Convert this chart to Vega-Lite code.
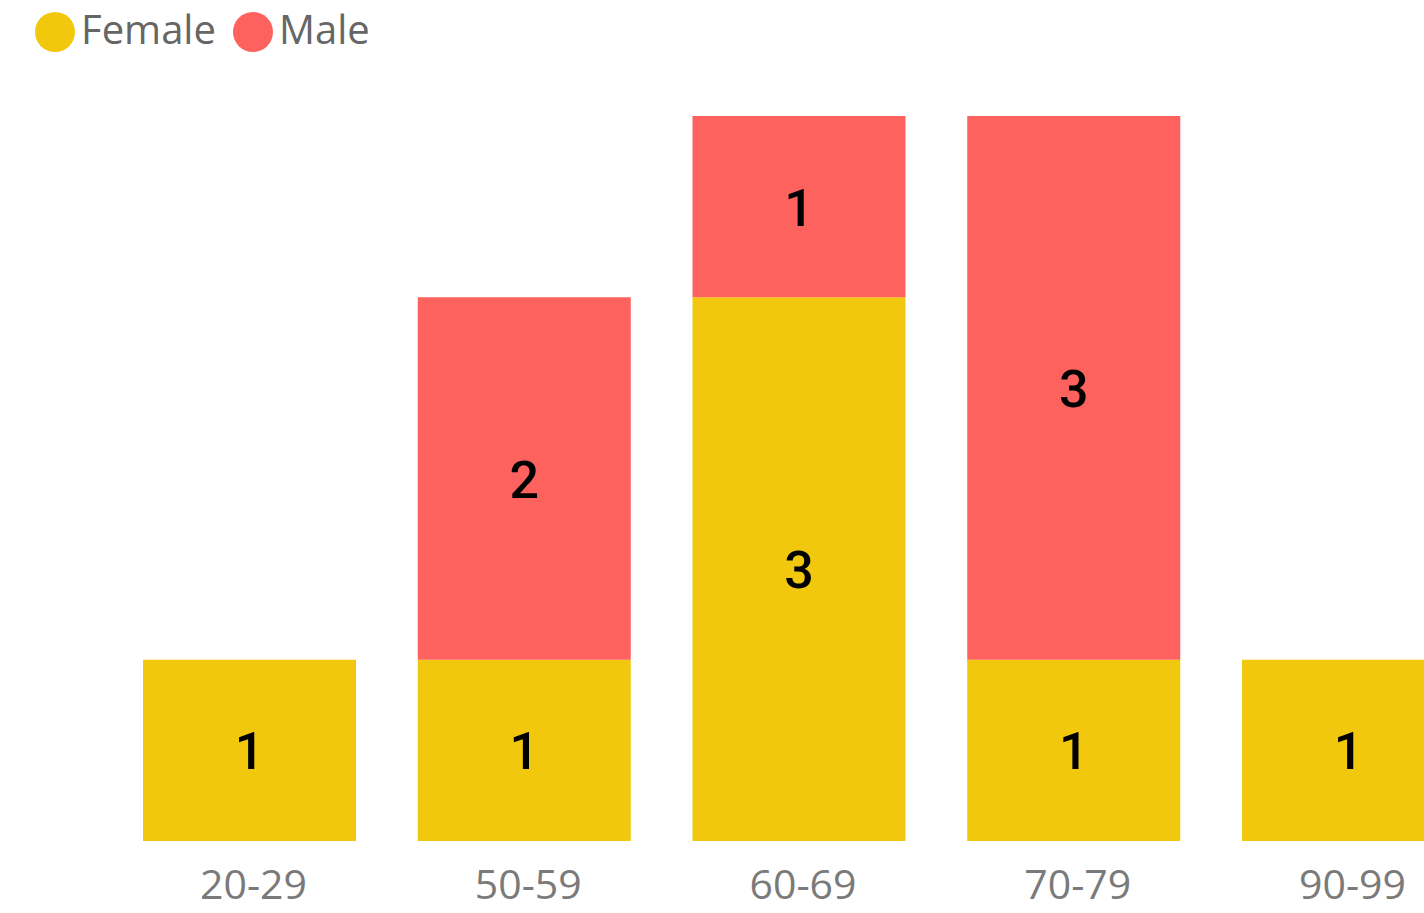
{
  "$schema": "https://vega.github.io/schema/vega-lite/v6.json",
  "width": 1424,
  "height": 725,
  "autosize": {"type": "none"},
  "padding": {"top": 116, "left": 0, "right": 0, "bottom": 72},
  "background": "white",
  "config": {"view": {"stroke": null}},
  "data": {
    "values": [
      {"age": "20-29", "gender": "Female", "count": 1},
      {"age": "50-59", "gender": "Female", "count": 1},
      {"age": "50-59", "gender": "Male", "count": 2},
      {"age": "60-69", "gender": "Female", "count": 3},
      {"age": "60-69", "gender": "Male", "count": 1},
      {"age": "70-79", "gender": "Female", "count": 1},
      {"age": "70-79", "gender": "Male", "count": 3},
      {"age": "90-99", "gender": "Female", "count": 1}
    ]
  },
  "encoding": {
    "x": {
      "field": "age",
      "type": "nominal",
      "sort": ["20-29", "50-59", "60-69", "70-79", "90-99"],
      "scale": {"range": [143, 1455], "paddingInner": 0.2247, "paddingOuter": 0},
      "axis": {
        "title": null,
        "domain": false,
        "ticks": false,
        "labelAngle": 0,
        "labelFont": "Open Sans",
        "labelFontSize": 41,
        "labelColor": "#7a7a7a",
        "labelPadding": 25,
        "labelOffset": 4
      }
    }
  },
  "layer": [
    {
      "mark": {"type": "bar", "clip": true},
      "encoding": {
        "y": {
          "field": "count",
          "type": "quantitative",
          "stack": "zero",
          "scale": {"domain": [0, 4]},
          "axis": null
        },
        "color": {
          "field": "gender",
          "type": "nominal",
          "scale": {"domain": ["Female", "Male"], "range": ["#F2C80F", "#FD625E"]},
          "legend": {
            "title": null,
            "orient": "none",
            "direction": "horizontal",
            "legendX": 35,
            "legendY": -104,
            "symbolType": "circle",
            "symbolSize": 1600,
            "symbolStrokeWidth": 0,
            "labelFont": "Open Sans",
            "labelFontSize": 40,
            "labelColor": "#666666",
            "labelOffset": 6,
            "columnPadding": 17,
            "padding": 0
          }
        },
        "order": {"field": "gender", "sort": "ascending"}
      }
    },
    {
      "transform": [
        {"stack": "count", "groupby": ["age"], "sort": [{"field": "gender", "order": "ascending"}], "as": ["y0", "y1"]},
        {"calculate": "(datum.y0 + datum.y1) / 2", "as": "mid"}
      ],
      "mark": {"type": "text", "font": "Roboto", "fontWeight": 500, "fontSize": 52, "color": "#000000", "align": "center", "baseline": "middle", "dy": 3, "clip": true},
      "encoding": {
        "y": {"field": "mid", "type": "quantitative"},
        "text": {"field": "count", "type": "quantitative"}
      }
    }
  ]
}
